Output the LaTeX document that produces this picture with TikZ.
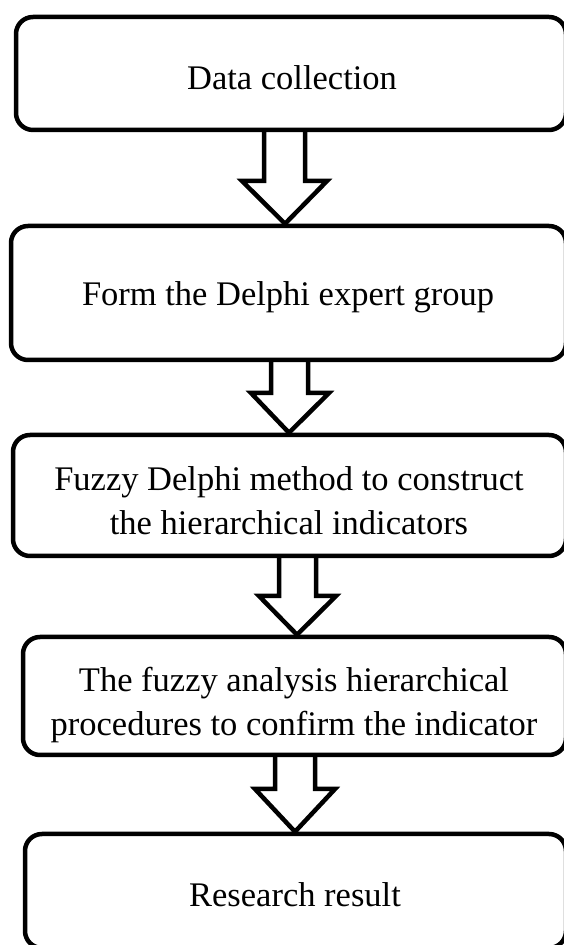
\documentclass[tikz,border=0pt]{standalone}
\usepackage{fontspec}
\setmainfont{Liberation Serif}
\usetikzlibrary{calc,backgrounds}
\tikzset{
  x=1pt,y=1pt,
  stepbox/.style={draw=black,line width=4.5pt,rounded corners=17pt,rectangle,inner sep=0pt},
  steptext/.style={align=center,font=\fontsize{34.5}{44}\selectfont,inner sep=0pt},
  blockarrow/.style={draw=black,fill=white,line width=4.5pt,line join=miter,miter limit=10}
}
\begin{document}
\begin{tikzpicture}
\useasboundingbox (0,0) rectangle (564,945);
% boxes (centers in pt, y up)
\node[stepbox,minimum width=550,minimum height=113] (b1) at (291,871.5) {};
\node[stepbox,minimum width=555,minimum height=134] (b2) at (288.5,652) {};
\node[stepbox,minimum width=553,minimum height=121] (b3) at (289.5,449.5) {};
\node[stepbox,minimum width=543,minimum height=118] (b4) at (294.5,249) {};
\node[stepbox,minimum width=541,minimum height=114] (b5) at (295.5,54) {};
% texts
\node[steptext] (t1) at (292,867) {Data collection};
\node[steptext] (t2) at (288,648) {Form the Delphi expert group};
\node[steptext] (t3) at (289,444) {Fuzzy Delphi method to construct\\the hierarchical indicators};
\node[steptext] (t4) at (294,240) {The fuzzy analysis hierarchical\\procedures to confirm the indicator};
\node[steptext] (t5) at (295,50) {Research result};
% block arrows
\begin{pgfonlayer}{background}
\draw[blockarrow] (264,0 |- b1.south) -- (264,764) -- (242,764) -- (285,0 |- b2.north) -- (327,764) -- (305,764) -- (305,0 |- b1.south);
\draw[blockarrow] (271,0 |- b2.south) -- (271,552) -- (251,552) -- (289,0 |- b3.north) -- (329,552) -- (308,552) -- (308,0 |- b2.south);
\draw[blockarrow] (279,0 |- b3.south) -- (279,349) -- (259,349) -- (297,0 |- b4.north) -- (336,349) -- (316,349) -- (316,0 |- b3.south);
\draw[blockarrow] (275,0 |- b4.south) -- (275,156) -- (255,156) -- (295,0 |- b5.north) -- (335,156) -- (315,156) -- (315,0 |- b4.south);
\end{pgfonlayer}
\end{tikzpicture}
\end{document}
